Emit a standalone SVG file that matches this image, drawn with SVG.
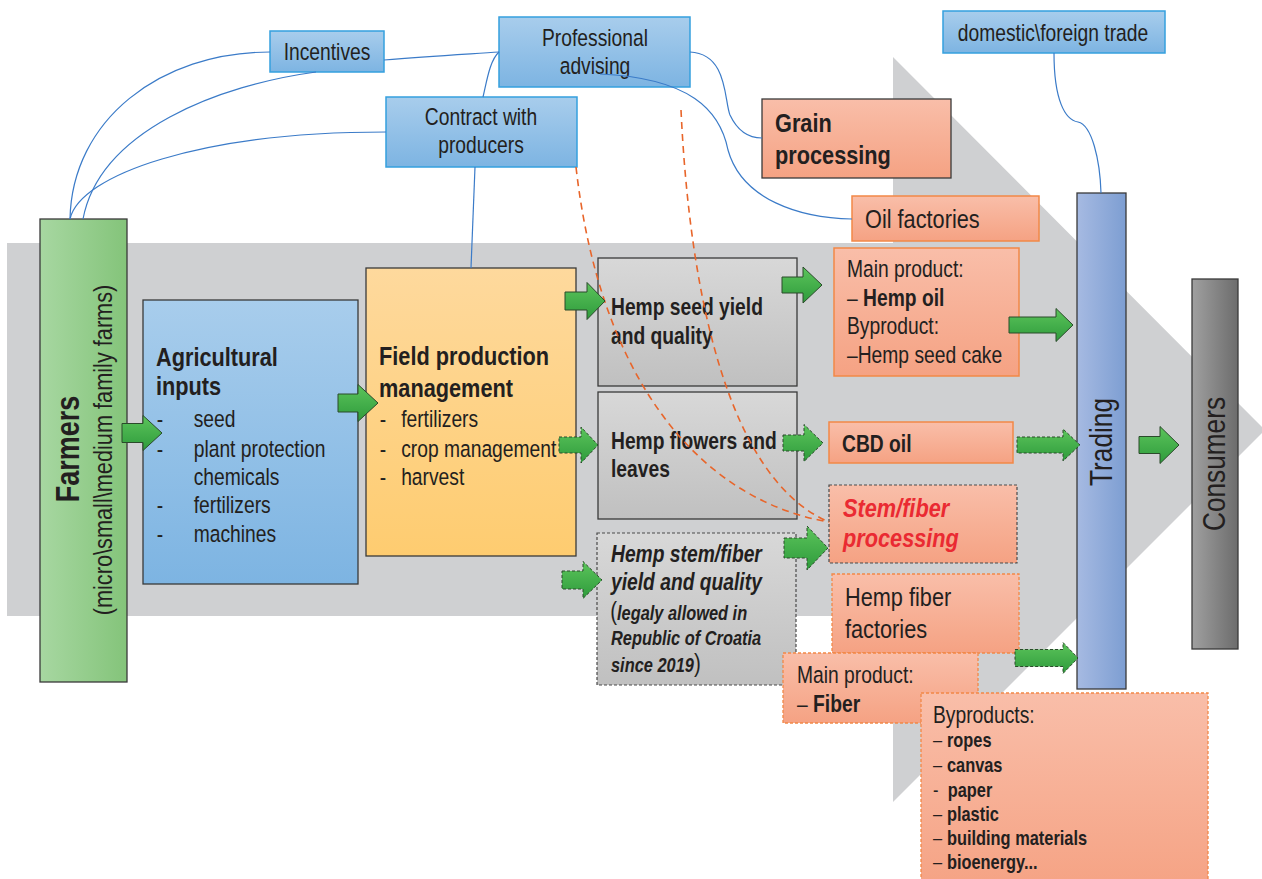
<svg xmlns="http://www.w3.org/2000/svg" width="1262" height="879" viewBox="0 0 1262 879">
<defs>
<linearGradient id="gGreen" x1="0" y1="0" x2="1" y2="0"><stop offset="0" stop-color="#a7d7a1"/><stop offset="1" stop-color="#84c47a"/></linearGradient>
<linearGradient id="gBlue" x1="0" y1="0" x2="0" y2="1"><stop offset="0" stop-color="#a8cdec"/><stop offset="1" stop-color="#7db4e2"/></linearGradient>
<linearGradient id="gYellow" x1="0" y1="0" x2="0" y2="1"><stop offset="0" stop-color="#fed99d"/><stop offset="1" stop-color="#fecc70"/></linearGradient>
<linearGradient id="gGray" x1="0" y1="0" x2="0" y2="1"><stop offset="0" stop-color="#d8d8d8"/><stop offset="1" stop-color="#c0c0c0"/></linearGradient>
<linearGradient id="gSalmon" x1="0" y1="0" x2="0" y2="1"><stop offset="0" stop-color="#f9bea9"/><stop offset="1" stop-color="#f5a283"/></linearGradient>
<linearGradient id="gTrade" x1="0" y1="0" x2="1" y2="0"><stop offset="0" stop-color="#a6bae2"/><stop offset="1" stop-color="#7d9ed2"/></linearGradient>
<linearGradient id="gCons" x1="0" y1="0" x2="1" y2="0"><stop offset="0" stop-color="#a0a0a0"/><stop offset="1" stop-color="#6c6c6c"/></linearGradient>
<linearGradient id="gArrow" x1="0" y1="0" x2="0" y2="1"><stop offset="0" stop-color="#5cc45b"/><stop offset="1" stop-color="#2e9b3c"/></linearGradient>
<style>
text{font-family:"Liberation Sans",Arial,sans-serif;fill:#231f20;}
.b{font-weight:bold;}
.i{font-style:italic;}
.dark{stroke:#3a3a3a;stroke-width:1.3;}
.blueBox{fill:url(#gBlue);stroke:#35a0de;stroke-width:1.5;}
.salmon{fill:url(#gSalmon);stroke:#f28847;stroke-width:1.5;}
.salmonD{fill:url(#gSalmon);stroke:#f28847;stroke-width:1.3;stroke-dasharray:3 2;}
.grayD{stroke:#4a4a4a;stroke-width:1.2;stroke-dasharray:3 2;}
.link{fill:none;stroke:#3b7bc8;stroke-width:1.2;}
.olink{fill:none;stroke:#e8652a;stroke-width:1.6;stroke-dasharray:7 5;}
.arr{fill:url(#gArrow);stroke:#2b4a2b;stroke-width:1;}
.arrD{fill:url(#gArrow);stroke:#2b4a2b;stroke-width:1;stroke-dasharray:3 2;}
.red{fill:#ea2a32;}
</style>
</defs>
<rect width="1262" height="879" fill="#ffffff"/>
<path d="M7,243 H893 V57 L1265,430 L893,802 V616 H7 Z" fill="#cfd0d2"/>

<g id="farmers">
<rect x="40" y="219" width="87" height="463" fill="url(#gGreen)" class="dark"/>
<text class="b" font-size="33" text-anchor="middle" transform="translate(79,449) rotate(-90) scale(0.82,1)">Farmers</text>
<text font-size="26.5" text-anchor="middle" transform="translate(112,450) rotate(-90) scale(0.82,1)">(micro\small\medium family farms)</text>
</g>

<g id="agricultural-inputs">
<rect x="143" y="300" width="215" height="284" fill="url(#gBlue)" class="dark"/>
<g transform="translate(156,0) scale(0.82,1)">
<text class="b" font-size="26.5" x="0" y="366">Agricultural</text>
<text class="b" font-size="26.5" x="0" y="395">inputs</text>
<g font-size="23.5">
<text x="1" y="427">-</text><text x="46" y="427">seed</text>
<text x="1" y="457">-</text><text x="46" y="457">plant protection</text>
<text x="46" y="485">chemicals</text>
<text x="1" y="513">-</text><text x="46" y="513">fertilizers</text>
<text x="1" y="542">-</text><text x="46" y="542">machines</text>
</g>
</g>
</g>

<g id="field-production">
<rect x="366" y="268" width="210" height="288" fill="url(#gYellow)" class="dark"/>
<g transform="translate(379,0) scale(0.82,1)">
<text class="b" font-size="26.5" x="0" y="365">Field production</text>
<text class="b" font-size="26.5" x="0" y="397">management</text>
<g font-size="23.5">
<text x="1" y="427">-</text><text x="27" y="427">fertilizers</text>
<text x="1" y="457">-</text><text x="27" y="457">crop management</text>
<text x="1" y="485">-</text><text x="27" y="485">harvest</text>
</g>
</g>
</g>

<g id="hemp-seed">
<rect x="598" y="258" width="199" height="128" fill="url(#gGray)" class="dark"/>
<g transform="translate(611,0) scale(0.82,1)">
<text class="b" font-size="23.5" x="0" y="315">Hemp seed yield</text>
<text class="b" font-size="23.5" x="0" y="344">and quality</text>
</g>
</g>

<g id="hemp-flowers">
<rect x="598" y="392" width="199" height="127" fill="url(#gGray)" class="dark"/>
<g transform="translate(611,0) scale(0.82,1)">
<text class="b" font-size="23.5" x="0" y="449">Hemp flowers and</text>
<text class="b" font-size="23.5" x="0" y="477">leaves</text>
</g>
</g>

<g id="hemp-stem">
<rect x="597" y="533" width="199" height="152" fill="url(#gGray)" class="grayD"/>
<g transform="translate(611,0) scale(0.82,1)">
<text class="b i" font-size="23.5" x="0" y="562">Hemp stem/fiber</text>
<text class="b i" font-size="23.5" x="0" y="590">yield and quality</text>
<text font-size="20" x="-1" y="620"><tspan font-size="25">(</tspan><tspan class="b i">legaly allowed in</tspan></text>
<text class="b i" font-size="20" x="0" y="645">Republic of Croatia</text>
<text font-size="20" x="0" y="672"><tspan class="b i">since 2019</tspan><tspan font-size="25">)</tspan></text>
</g>
</g>

<g id="incentives">
<rect x="270" y="31" width="114" height="41" class="blueBox"/>
<text font-size="23.5" text-anchor="middle" transform="translate(327,60) scale(0.82,1)">Incentives</text>
</g>

<g id="professional-advising">
<rect x="499" y="17" width="191" height="70" class="blueBox"/>
<text font-size="23.5" text-anchor="middle" transform="translate(595,46) scale(0.82,1)">Professional</text>
<text font-size="23.5" text-anchor="middle" transform="translate(595,74) scale(0.82,1)">advising</text>
</g>

<g id="contract-producers">
<rect x="386" y="97" width="191" height="70" class="blueBox"/>
<text font-size="23.5" text-anchor="middle" transform="translate(481,125) scale(0.82,1)">Contract with</text>
<text font-size="23.5" text-anchor="middle" transform="translate(481,153) scale(0.82,1)">producers</text>
</g>

<g id="domestic-foreign-trade">
<rect x="943" y="11" width="222" height="42" class="blueBox"/>
<text font-size="23.5" text-anchor="middle" transform="translate(1053,41) scale(0.82,1)">domestic\foreign trade</text>
</g>

<g id="grain-processing">
<rect x="762" y="99" width="189" height="79" fill="url(#gSalmon)" class="dark"/>
<g transform="translate(775,0) scale(0.82,1)">
<text class="b" font-size="26.5" x="0" y="132">Grain</text>
<text class="b" font-size="26.5" x="0" y="164">processing</text>
</g>
</g>

<g id="oil-factories">
<rect x="852" y="196" width="187" height="45" class="salmon"/>
<text font-size="26.5" transform="translate(865,228) scale(0.82,1)">Oil factories</text>
</g>

<g id="oil-products">
<rect x="834" y="248" width="185" height="128" class="salmon"/>
<g font-size="23.5" transform="translate(847,0) scale(0.82,1)">
<text x="0" y="277">Main product:</text>
<text x="0" y="306">– <tspan class="b">Hemp oil</tspan></text>
<text x="0" y="334">Byproduct:</text>
<text x="0" y="363">–Hemp seed cake</text>
</g>
</g>

<g id="cbd-oil">
<rect x="829" y="422" width="184" height="41" class="salmon"/>
<text class="b" font-size="23.5" transform="translate(842,452) scale(0.82,1)">CBD oil</text>
</g>

<g id="stem-fiber-processing">
<rect x="829" y="485" width="188" height="78" fill="url(#gSalmon)" class="grayD"/>
<g transform="translate(843,0) scale(0.82,1)">
<text class="b i red" font-size="26.5" x="0" y="517">Stem/fiber</text>
<text class="b i red" font-size="26.5" x="0" y="547">processing</text>
</g>
</g>

<g id="hemp-fiber-factories">
<rect x="832" y="574" width="187" height="79" class="salmonD"/>
<g transform="translate(845,0) scale(0.82,1)">
<text font-size="26.5" x="0" y="606">Hemp fiber</text>
<text font-size="26.5" x="0" y="638">factories</text>
</g>
</g>

<g id="fiber-main-product">
<rect x="783" y="653" width="195" height="70" class="salmonD"/>
<g transform="translate(797,0) scale(0.82,1)">
<text font-size="23.5" x="0" y="683">Main product:</text>
<text font-size="23.5" x="0" y="712">– <tspan class="b">Fiber</tspan></text>
</g>
</g>

<g id="fiber-byproducts">
<rect x="921" y="693" width="287" height="200" class="salmonD"/>
<g transform="translate(933,0) scale(0.82,1)">
<text font-size="23.5" x="0" y="723">Byproducts:</text>
<g font-size="20">
<text x="0" y="747">– <tspan class="b" x="17">ropes</tspan></text>
<text x="0" y="772">– <tspan class="b" x="17">canvas</tspan></text>
<text x="0" y="797">- <tspan class="b" x="18">paper</tspan></text>
<text x="0" y="821">– <tspan class="b" x="17">plastic</tspan></text>
<text x="0" y="845">– <tspan class="b" x="17">building materials</tspan></text>
<text x="0" y="869">– <tspan class="b" x="17">bioenergy...</tspan></text>
</g>
</g>
</g>

<g id="trading">
<rect x="1077" y="193" width="49" height="496" fill="url(#gTrade)" class="dark"/>
<text font-size="32" text-anchor="middle" transform="translate(1112,442) rotate(-90) scale(0.82,1)">Trading</text>
</g>

<g id="consumers">
<rect x="1192" y="279" width="46" height="370" fill="url(#gCons)" class="dark"/>
<text font-size="32" text-anchor="middle" transform="translate(1225,464) rotate(-90) scale(0.82,1)">Consumers</text>
</g>

<g id="connectors">
<path class="link" d="M70,219 C72,120 160,52 270,52"/>
<path class="link" d="M83,219 C100,130 220,85 316,72"/>
<path class="link" d="M70,219 C80,175 200,132 386,132"/>
<path class="link" d="M384,60 C430,56 470,54 499,52"/>
<path class="link" d="M499,52 C490,60 487,80 483,97"/>
<path class="link" d="M475,167 L471,268"/>
<path class="link" d="M690,52 C728,54 724,100 730,115 C738,132 750,138 762,138"/>
<path class="link" d="M600,74 C690,78 720,110 728,150 C742,200 800,218 852,219"/>
<path class="link" d="M1054,53 C1054,100 1065,120 1078,122 C1092,125 1100,160 1101,193"/>
<path class="olink" d="M576,167 C600,380 700,500 829,522"/>
<path class="olink" d="M681,110 C690,300 730,480 829,522"/>
<path class="arr" d="M122,423.5 H143 V415.5 L162,433 L143,450.5 V442.5 H122 Z"/>
<path class="arr" d="M338,394 H358 V384.5 L378,403 L358,421.5 V412 H338 Z"/>
<path class="arr" d="M565,292 H587 V282.5 L605,301 L587,319.5 V310 H565 Z"/>
<path class="arrD" d="M559,437 H581 V427 L598,445 L581,463 V453 H559 Z"/>
<path class="arrD" d="M562,571 H583 V561.5 L602,580 L583,598.5 V589 H562 Z"/>
<path class="arr" d="M782,277 H803 V267 L822,285 L803,303 V293 H782 Z"/>
<path class="arrD" d="M783,435 H804 V424.5 L823,443 L804,461.5 V451 H783 Z"/>
<path class="arrD" d="M784,538 H807 V526 L828,548 L807,570 V558 H784 Z"/>
<path class="arr" d="M1009,317 H1056 V308.5 L1073,325 L1056,341.5 V333 H1009 Z"/>
<path class="arrD" d="M1017,437 H1063 V429 L1080,445 L1063,461 V453 H1017 Z"/>
<path class="arr" d="M1139,436.5 H1160 V426.5 L1179,445 L1160,463.5 V453.5 H1139 Z"/>
<path class="arrD" d="M1015,649.5 H1063 V642.5 L1078,658 L1063,673.5 V666.5 H1015 Z"/>
</g>
</svg>
